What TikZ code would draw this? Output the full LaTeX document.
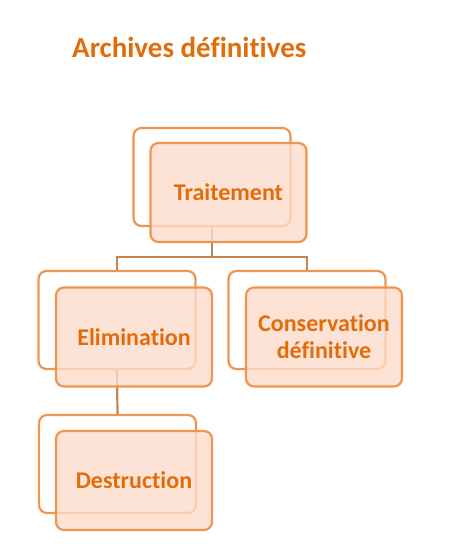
\documentclass[tikz,border=0pt]{standalone}
\usepackage{fontspec}
\setmainfont[Ligatures={NoCommon}]{Carlito}
\usetikzlibrary{positioning}
\definecolor{boxline}{HTML}{EE9550}
\definecolor{boxfill}{HTML}{FBDCCB}
\definecolor{conn}{HTML}{C9834C}
\definecolor{txt}{HTML}{E36C0A}
\tikzset{
  backbox/.style={draw=boxline, line width=2.2pt, rounded corners=8pt, minimum width=157pt, minimum height=98pt, inner sep=0pt},
  frontbox/.style={draw=boxline, line width=2.2pt, rounded corners=8pt, fill=boxfill, fill opacity=0.8, text opacity=1, minimum width=156pt, minimum height=99pt, inner sep=0pt, align=center, font=\bfseries\fontsize{24}{27}\selectfont, text=txt},
  connector/.style={draw=conn, line width=2.2pt},
}
\begin{document}
\begin{tikzpicture}[x=1pt,y=-1pt]
\useasboundingbox (0,0) rectangle (460,558);
\node[anchor=base west, text=txt, font=\bfseries\fontsize{29}{33}\selectfont, inner sep=0pt] (title) at (72,57) {Archives définitives};
% back boxes
\node[backbox] (tb) at (212,177) {};
\node[backbox] (eb) at (117,320) {};
\node[backbox] (cb) at (307,320) {};
\node[backbox] (db) at (117.5,464) {};
% connectors
\draw[connector] (tb.south) -- ++(0,30) -| (eb.north);
\draw[connector] (tb.south) ++(0,30) -| (cb.north);
\draw[connector] (eb.south) -- (db.north);
% front boxes
\node[frontbox] (tf) at (228.5,192.5) {Traitement};
\node[frontbox] (ef) at (134,337) {Elimination};
\node[frontbox] (cf) at (324,337) {Conservation\\définitive};
\node[frontbox] (df) at (134,480.5) {Destruction};
\end{tikzpicture}
\end{document}
